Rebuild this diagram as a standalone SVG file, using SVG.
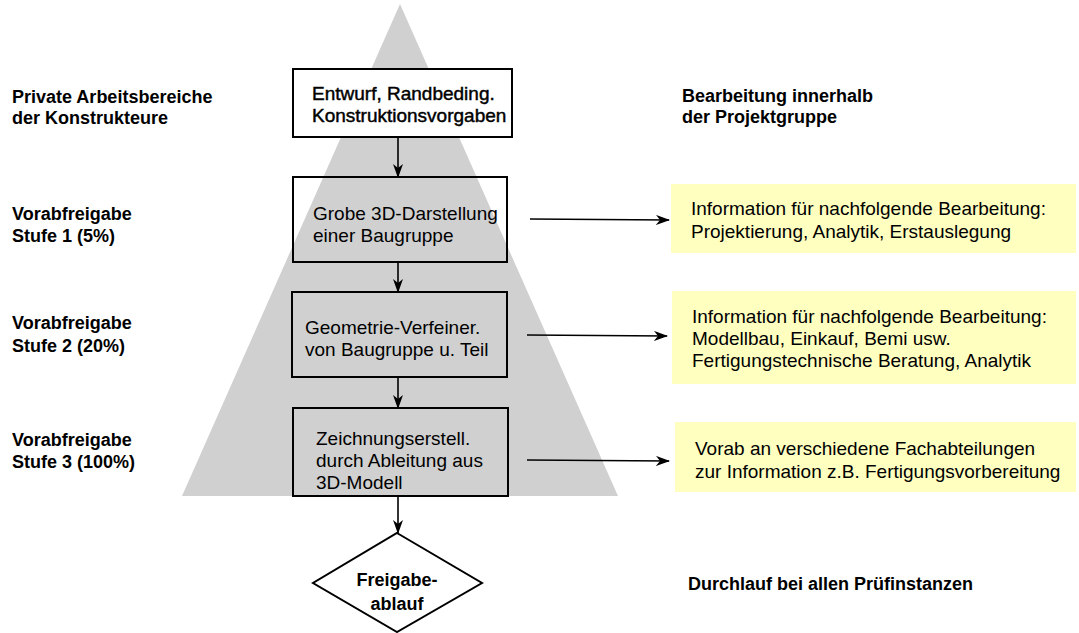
<svg xmlns="http://www.w3.org/2000/svg" width="1079" height="633" viewBox="0 0 1079 633">
  <defs>
    <marker id="arrow" viewBox="0 0 14 10" refX="13" refY="5" markerWidth="14" markerHeight="10" markerUnits="userSpaceOnUse" orient="auto">
      <path d="M0,0 L14,5 L0,10 L4,5 Z" fill="#000"/>
    </marker>
    <style>
      text { font-family: "Liberation Sans", Arial, Helvetica, sans-serif; fill: #000; }
      .lbl { font-size: 18px; font-weight: bold; }
      .box { font-size: 19px; }
      .heavy { stroke: #000; stroke-width: 0.45; }
      .node { stroke: #000; stroke-width: 2; }
      .info { fill: #ffffc0; }
      .conn { stroke: #000; stroke-width: 1.6; fill: none; marker-end: url(#arrow); }
    </style>
  </defs>

  <!-- background pyramid -->
  <polygon id="pyramid" points="400,4 182,496 618,496" fill="#d0d0d0"/>

  <!-- side labels -->
  <g id="labels-left">
    <text class="lbl" x="12" y="103">Private Arbeitsbereiche</text>
    <text class="lbl" x="12" y="124">der Konstrukteure</text>
    <text class="lbl" x="12" y="220">Vorabfreigabe</text>
    <text class="lbl" x="12" y="242">Stufe 1 (5%)</text>
    <text class="lbl" x="12" y="329">Vorabfreigabe</text>
    <text class="lbl" x="12" y="352">Stufe 2 (20%)</text>
    <text class="lbl" x="12" y="446">Vorabfreigabe</text>
    <text class="lbl" x="12" y="468">Stufe 3 (100%)</text>
  </g>
  <g id="labels-right">
    <text class="lbl" x="682" y="102">Bearbeitung innerhalb</text>
    <text class="lbl" x="682" y="123">der Projektgruppe</text>
    <text class="lbl" x="688" y="590">Durchlauf bei allen Prüfinstanzen</text>
  </g>

  <!-- process steps -->
  <g id="entwurf">
    <rect class="node" x="293" y="69" width="219" height="68" fill="#fff"/>
    <text class="box heavy" x="312" y="100">Entwurf, Randbeding.</text>
    <text class="box heavy" x="312" y="122">Konstruktionsvorgaben</text>
  </g>
  <g id="stufe1">
    <rect class="node" x="293" y="177" width="214" height="85" fill="none"/>
    <text class="box" x="313" y="220">Grobe 3D-Darstellung</text>
    <text class="box" x="313" y="242">einer Baugruppe</text>
  </g>
  <g id="stufe2">
    <rect class="node" x="292" y="292" width="215" height="85" fill="#d0d0d0"/>
    <text class="box" x="305" y="334">Geometrie-Verfeiner.</text>
    <text class="box" x="305" y="356">von Baugruppe u. Teil</text>
  </g>
  <g id="stufe3">
    <rect class="node" x="293" y="408" width="215" height="88" fill="#d0d0d0"/>
    <text class="box" x="316" y="445">Zeichnungserstell.</text>
    <text class="box" x="316" y="467">durch Ableitung aus</text>
    <text class="box" x="316" y="489">3D-Modell</text>
  </g>
  <g id="freigabe">
    <polygon class="node" points="397,533 482,583 397,632 313,583" fill="#fff" stroke-width="1.6"/>
    <text class="lbl" x="397" y="586" text-anchor="middle" font-size="19">Freigabe-</text>
    <text class="lbl" x="397" y="610" text-anchor="middle" font-size="19">ablauf</text>
  </g>

  <!-- information boxes -->
  <g id="info1">
    <rect class="info" x="671" y="184" width="405" height="69"/>
    <text class="box" x="691" y="215">Information für nachfolgende Bearbeitung:</text>
    <text class="box" x="691" y="238">Projektierung, Analytik, Erstauslegung</text>
  </g>
  <g id="info2">
    <rect class="info" x="672" y="291" width="404" height="93"/>
    <text class="box" x="692" y="323">Information für nachfolgende Bearbeitung:</text>
    <text class="box" x="692" y="345">Modellbau, Einkauf, Bemi usw.</text>
    <text class="box" x="692" y="367">Fertigungstechnische Beratung, Analytik</text>
  </g>
  <g id="info3">
    <rect class="info" x="675" y="422" width="401" height="70"/>
    <text class="box" x="695" y="455">Vorab an verschiedene Fachabteilungen</text>
    <text class="box" x="695" y="478">zur Information z.B. Fertigungsvorbereitung</text>
  </g>

  <!-- connectors -->
  <g id="connectors">
    <line class="conn" x1="398" y1="137" x2="398" y2="177"/>
    <line class="conn" x1="398" y1="262" x2="398" y2="292"/>
    <line class="conn" x1="398" y1="377" x2="398" y2="408"/>
    <line class="conn" x1="398" y1="496" x2="398" y2="533"/>
    <line class="conn" x1="530" y1="219" x2="669" y2="220"/>
    <line class="conn" x1="527" y1="335" x2="667" y2="336"/>
    <line class="conn" x1="527" y1="460" x2="669" y2="461"/>
  </g>
</svg>
